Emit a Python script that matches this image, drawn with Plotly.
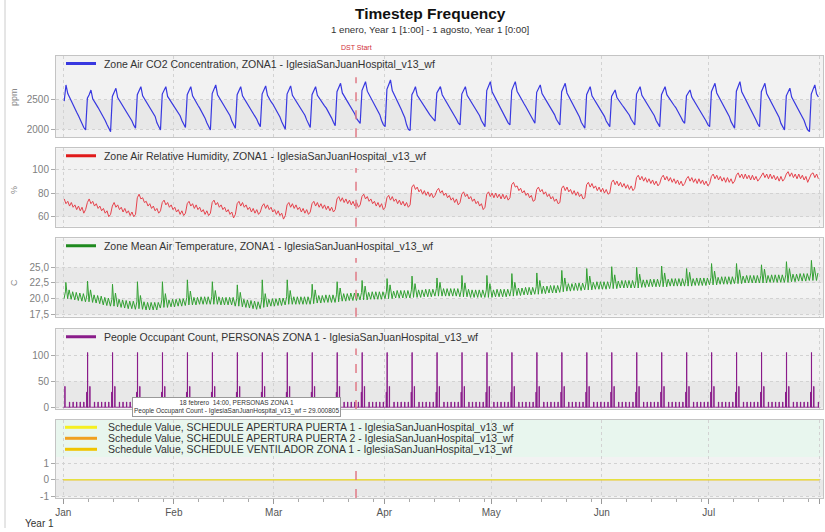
import plotly.graph_objects as go
from plotly.subplots import make_subplots
from datetime import datetime, timedelta

START = datetime(2001, 1, 1, 0, 0)
N_DAYS = 212
DST_START = datetime(2001, 3, 24, 2, 0)

# ---------------- data ----------------
# CO2 [ppm]: two readings per day (06:00, 18:00). Row 0 = Mon 1 Jan..Sat 6 Jan, then Sun..Sat rows
CO2_PPM = [
    [2480, 2756, 2610, 2540, 2470, 2410, 2350, 2290, 2230, 2160, 2090, 2030],
    [1988, 2530, 2590, 2670, 2520, 2460, 2420, 2370, 2320, 2270, 2210, 2150, 2080, 2010],
    [1960, 2560, 2630, 2700, 2540, 2490, 2440, 2400, 2350, 2300, 2250, 2200, 2140, 2070],
    [2017, 2590, 2650, 2727, 2570, 2520, 2460, 2420, 2370, 2330, 2270, 2220, 2110, 2040],
    [1988, 2600, 2660, 2727, 2560, 2510, 2470, 2430, 2380, 2330, 2280, 2230, 2150, 2080],
    [2030, 2590, 2650, 2727, 2570, 2510, 2460, 2410, 2360, 2310, 2250, 2190, 2110, 2040],
    [1988, 2610, 2680, 2756, 2590, 2540, 2490, 2440, 2390, 2340, 2290, 2230, 2140, 2070],
    [2017, 2590, 2650, 2727, 2570, 2520, 2480, 2430, 2390, 2340, 2290, 2240, 2170, 2100],
    [2045, 2600, 2670, 2740, 2580, 2520, 2470, 2430, 2380, 2330, 2270, 2210, 2130, 2060],
    [2000, 2600, 2660, 2740, 2580, 2530, 2480, 2440, 2390, 2340, 2290, 2240, 2160, 2090],
    [2030, 2590, 2650, 2727, 2580, 2530, 2490, 2450, 2400, 2360, 2310, 2260, 2190, 2120],
    [2060, 2640, 2710, 2784, 2620, 2570, 2520, 2470, 2420, 2370, 2320, 2260, 2180, 2130],
    [2100, 2660, 2730, 2812, 2650, 2590, 2530, 2480, 2420, 2370, 2310, 2250, 2150, 2080],
    [2045, 2680, 2760, 2841, 2660, 2600, 2530, 2470, 2400, 2340, 2270, 2200, 2080, 2000],
    [1980, 2590, 2650, 2727, 2580, 2530, 2480, 2430, 2380, 2340, 2290, 2250, 2210, 2170],
    [2140, 2620, 2670, 2727, 2590, 2540, 2490, 2440, 2390, 2340, 2290, 2240, 2170, 2110],
    [2073, 2600, 2660, 2727, 2580, 2530, 2480, 2440, 2390, 2340, 2280, 2230, 2150, 2090],
    [2045, 2660, 2730, 2812, 2640, 2580, 2520, 2470, 2410, 2360, 2300, 2250, 2170, 2110],
    [2073, 2660, 2740, 2812, 2650, 2590, 2540, 2480, 2430, 2380, 2320, 2270, 2200, 2140],
    [2102, 2630, 2690, 2756, 2610, 2560, 2500, 2460, 2410, 2360, 2300, 2250, 2170, 2110],
    [2073, 2640, 2710, 2784, 2620, 2560, 2500, 2450, 2390, 2340, 2270, 2210, 2120, 2060],
    [2017, 2590, 2650, 2727, 2570, 2520, 2470, 2420, 2370, 2320, 2270, 2220, 2140, 2080],
    [2045, 2560, 2610, 2670, 2540, 2490, 2450, 2410, 2370, 2330, 2280, 2240, 2170, 2110],
    [2073, 2600, 2660, 2727, 2580, 2530, 2480, 2430, 2380, 2330, 2280, 2230, 2150, 2090],
    [2045, 2590, 2650, 2727, 2590, 2540, 2500, 2450, 2410, 2370, 2320, 2270, 2200, 2140],
    [2102, 2570, 2620, 2670, 2550, 2500, 2460, 2410, 2360, 2310, 2260, 2210, 2140, 2080],
    [2045, 2640, 2710, 2784, 2620, 2560, 2500, 2450, 2390, 2340, 2280, 2220, 2130, 2060],
    [2017, 2650, 2730, 2812, 2640, 2580, 2520, 2470, 2410, 2360, 2300, 2240, 2160, 2090],
    [2045, 2640, 2710, 2784, 2610, 2550, 2490, 2440, 2380, 2320, 2260, 2200, 2100, 2030],
    [1988, 2570, 2630, 2700, 2550, 2490, 2430, 2380, 2320, 2270, 2210, 2150, 2060, 1990],
    [1960, 2600, 2680, 2756, 2600, 2550],
]

# Relative humidity [%]: two readings per day (06:00, 18:00), same week rows
RH_PCT = [
    [75, 71, 73, 69, 72, 68, 70, 66, 69, 65, 68, 63],
    [66, 72, 75, 71, 73, 69, 71, 67, 69, 65, 67, 63, 65, 60],
    [62, 69, 72, 68, 70, 66, 68, 64, 67, 63, 65, 61, 64, 60],
    [62, 76, 79, 75, 76, 72, 73, 69, 71, 67, 69, 65, 67, 63],
    [65, 72, 74, 70, 72, 68, 70, 66, 68, 64, 66, 62, 65, 61],
    [63, 71, 73, 69, 71, 67, 70, 66, 68, 64, 66, 62, 65, 61],
    [63, 72, 74, 70, 72, 68, 70, 66, 68, 64, 66, 62, 64, 59],
    [62, 71, 73, 69, 72, 68, 70, 66, 68, 64, 67, 63, 66, 62],
    [64, 69, 71, 67, 70, 66, 68, 64, 66, 62, 65, 61, 63, 58],
    [61, 70, 72, 68, 71, 67, 70, 66, 68, 64, 67, 63, 66, 62],
    [64, 71, 73, 69, 72, 68, 71, 67, 70, 66, 69, 65, 68, 64],
    [66, 75, 77, 73, 76, 72, 75, 71, 74, 70, 73, 69, 72, 68],
    [70, 77, 79, 75, 77, 73, 75, 71, 73, 69, 72, 68, 71, 66],
    [68, 76, 78, 74, 77, 73, 75, 71, 74, 70, 73, 69, 72, 68],
    [70, 85, 87, 83, 85, 81, 83, 79, 82, 78, 81, 77, 80, 76],
    [78, 82, 84, 80, 82, 78, 80, 76, 78, 74, 76, 72, 75, 70],
    [72, 79, 81, 77, 79, 75, 77, 73, 75, 71, 73, 69, 71, 66],
    [68, 79, 81, 77, 80, 76, 80, 76, 79, 75, 79, 75, 78, 74],
    [76, 87, 89, 85, 86, 82, 84, 80, 82, 78, 80, 76, 78, 73],
    [74, 83, 85, 81, 83, 79, 81, 77, 79, 75, 77, 73, 75, 71],
    [72, 84, 86, 82, 85, 81, 83, 79, 82, 78, 81, 77, 79, 75],
    [76, 87, 89, 85, 88, 84, 86, 82, 85, 81, 84, 80, 83, 79],
    [80, 89, 91, 87, 90, 86, 89, 85, 88, 84, 87, 83, 86, 82],
    [84, 93, 95, 91, 94, 90, 93, 89, 92, 88, 91, 87, 90, 86],
    [88, 93, 95, 91, 94, 90, 93, 89, 92, 88, 91, 87, 90, 86],
    [88, 92, 94, 90, 93, 89, 92, 88, 92, 88, 91, 87, 90, 86],
    [88, 94, 96, 92, 95, 91, 94, 90, 93, 89, 93, 89, 92, 88],
    [90, 95, 97, 93, 96, 92, 96, 92, 95, 91, 95, 91, 94, 90],
    [92, 95, 97, 93, 96, 92, 96, 92, 95, 91, 94, 90, 94, 90],
    [92, 96, 98, 94, 97, 93, 96, 92, 96, 92, 95, 91, 94, 89],
    [92, 96, 97, 93, 96, 92],
]

# Mean air temperature [C]: two readings per day (05:00 low, 15:00 high)
TEMP_C = [
    [20.0, 21.2, 20.0, 21.4, 19.9, 21.1, 19.8, 21.0, 19.7, 20.9, 19.6, 20.8],
    [19.5, 20.6, 19.5, 21.4, 19.4, 20.6, 19.3, 20.5, 19.2, 20.4, 19.0, 20.2, 18.9, 20.1],
    [18.8, 19.9, 18.8, 20.9, 18.7, 19.9, 18.6, 19.8, 18.5, 19.7, 18.4, 19.6, 18.4, 19.6],
    [18.3, 19.5, 18.4, 20.5, 18.3, 19.5, 18.2, 19.4, 18.2, 19.4, 18.2, 19.4, 18.2, 19.4],
    [18.5, 19.8, 18.6, 20.8, 18.6, 19.8, 18.7, 19.9, 18.7, 19.9, 18.8, 20.0, 18.8, 20.0],
    [18.9, 20.2, 19.0, 21.2, 19.0, 20.2, 19.0, 20.2, 19.1, 20.3, 19.1, 20.3, 19.1, 20.3],
    [19.1, 20.3, 19.1, 21.3, 19.1, 20.3, 19.0, 20.2, 19.0, 20.2, 19.0, 20.2, 19.0, 20.2],
    [18.8, 20.0, 18.8, 21.0, 18.7, 19.9, 18.6, 19.8, 18.5, 19.7, 18.4, 19.6, 18.3, 19.5],
    [18.4, 19.8, 18.6, 20.8, 18.7, 19.9, 18.8, 20.0, 18.8, 20.0, 18.9, 20.1, 18.9, 20.1],
    [19.0, 20.3, 19.1, 21.3, 19.1, 20.3, 19.1, 20.3, 19.1, 20.3, 19.1, 20.3, 19.1, 20.3],
    [19.1, 20.4, 19.2, 21.4, 19.3, 20.5, 19.3, 20.5, 19.4, 20.6, 19.4, 20.6, 19.4, 20.6],
    [19.4, 20.7, 19.5, 21.7, 19.6, 20.8, 19.6, 20.8, 19.7, 20.9, 19.7, 20.9, 19.7, 20.9],
    [19.8, 21.0, 19.8, 22.0, 19.8, 21.0, 19.9, 21.1, 19.9, 21.1, 19.9, 21.1, 19.9, 21.1],
    [20.0, 21.2, 20.0, 22.2, 20.0, 21.2, 20.1, 21.3, 20.1, 21.3, 20.1, 21.3, 20.1, 21.3],
    [20.1, 21.4, 20.2, 22.4, 20.2, 21.4, 20.2, 21.4, 20.3, 21.5, 20.3, 21.5, 20.3, 21.5],
    [20.4, 21.6, 20.4, 22.6, 20.4, 21.6, 20.4, 21.6, 20.4, 21.6, 20.4, 21.6, 20.4, 21.6],
    [20.3, 21.5, 20.3, 22.5, 20.3, 21.5, 20.2, 21.4, 20.2, 21.4, 20.2, 21.4, 20.2, 21.4],
    [20.2, 21.4, 20.2, 22.4, 20.2, 21.4, 20.3, 21.5, 20.3, 21.5, 20.3, 21.5, 20.3, 21.5],
    [20.4, 21.6, 20.4, 22.6, 20.5, 21.7, 20.5, 21.7, 20.6, 21.8, 20.6, 21.8, 20.6, 21.8],
    [20.7, 21.9, 20.7, 22.9, 20.8, 22.0, 20.8, 22.0, 20.9, 22.1, 20.9, 22.1, 20.9, 22.1],
    [21.0, 22.3, 21.1, 23.3, 21.2, 22.4, 21.2, 22.4, 21.3, 22.5, 21.3, 22.5, 21.3, 22.5],
    [21.4, 22.6, 21.4, 23.6, 21.4, 22.6, 21.5, 22.7, 21.5, 22.7, 21.5, 22.7, 21.5, 22.7],
    [21.6, 22.8, 21.6, 23.8, 21.6, 22.8, 21.7, 22.9, 21.7, 22.9, 21.7, 22.9, 21.7, 22.9],
    [21.7, 22.9, 21.7, 23.9, 21.8, 23.0, 21.8, 23.0, 21.9, 23.1, 21.9, 23.1, 21.9, 23.1],
    [21.9, 23.1, 21.9, 24.1, 21.9, 23.1, 22.0, 23.2, 22.0, 23.2, 22.0, 23.2, 22.0, 23.2],
    [22.0, 23.2, 22.0, 24.2, 22.0, 23.2, 22.1, 23.3, 22.1, 23.3, 22.1, 23.3, 22.1, 23.3],
    [22.2, 23.4, 22.2, 24.4, 22.2, 23.4, 22.3, 23.5, 22.3, 23.5, 22.3, 23.5, 22.3, 23.5],
    [22.4, 23.6, 22.4, 24.6, 22.4, 23.6, 22.5, 23.7, 22.5, 23.7, 22.5, 23.7, 22.5, 23.7],
    [22.5, 23.7, 22.5, 24.7, 22.5, 23.7, 22.6, 23.8, 22.6, 23.8, 22.6, 23.8, 22.6, 23.8],
    [22.6, 23.8, 22.6, 24.8, 22.7, 23.9, 22.7, 23.9, 22.8, 24.0, 22.8, 24.0, 22.8, 24.0],
    [22.9, 24.1, 22.9, 25.0, 22.9, 24.1],
]
# short temperature peaks: Mon 1 Jan 17:00, then every Sunday 19:00
TEMP_PEAK_C = [22.6, 22.8, 22.3, 22.7, 22.7, 23.0, 22.7, 22.2, 23.0, 23.0, 22.3,
               22.7, 22.9, 23.2, 23.6, 23.3, 23.7, 23.7, 24.0, 24.1, 24.5,
               24.8, 25.1, 25.0, 25.2, 24.8, 25.6, 25.6, 25.4, 25.9, 26.1]

# People occupant count, per week
PEOPLE_SUNDAY_PEAK = [105, 105, 105, 105, 105, 105, 105, 105, 105, 105,
                      105, 105, 105, 105, 105, 105, 105, 105, 105, 105,
                      105, 105, 105, 105, 105, 105, 105, 105, 105, 105]
PEOPLE_SUNDAY_AFTERNOON = [29, 29, 29, 29, 29, 29, 29, 29, 29, 29,
                           29, 29, 29, 29, 29, 29, 29, 29, 29, 29,
                           29, 29, 29, 29, 29, 29, 29, 29, 29, 29]
PEOPLE_MONDAY = [40, 40, 40, 40, 40, 40, 40, 40, 40, 40, 40,
                 40, 40, 40, 40, 40, 40, 40, 40, 40, 40,
                 40, 40, 40, 40, 40, 40, 40, 40, 40, 40]
PEOPLE_WEEKDAY = [10, 10, 10, 10, 10, 10, 10, 10, 10, 10, 10,
                  10, 10, 10, 10, 10, 10, 10, 10, 10, 10,
                  10, 10, 10, 10, 10, 10, 10, 10, 10, 10]

# Schedule values (flat at 0 over the period)
SCHED_PUERTA1 = [0, 0]
SCHED_PUERTA2 = [0, 0]
SCHED_VENT = [0, 0]

# Axis ticks
CO2_TICKS = [2000, 2500]
RH_TICKS = [60, 80, 100]
T_TICKS = [17.5, 20.0, 22.5, 25.0]
T_TICKTEXT = ["17,5", "20,0", "22,5", "25,0"]
PEOPLE_TICKS = [0, 50, 100]
SCHED_TICKS = [-1, 0, 1]

NAMES = [
    "Zone Air CO2 Concentration, ZONA1 - IglesiaSanJuanHospital_v13_wf",
    "Zone Air Relative Humidity, ZONA1 - IglesiaSanJuanHospital_v13_wf",
    "Zone Mean Air Temperature, ZONA1 - IglesiaSanJuanHospital_v13_wf",
    "People Occupant Count, PERSONAS ZONA 1 - IglesiaSanJuanHospital_v13_wf",
    "Schedule Value, SCHEDULE APERTURA PUERTA 1 - IglesiaSanJuanHospital_v13_wf",
    "Schedule Value, SCHEDULE APERTURA PUERTA 2 - IglesiaSanJuanHospital_v13_wf",
    "Schedule Value, SCHEDULE VENTILADOR ZONA 1 - IglesiaSanJuanHospital_v13_wf",
]

# ---------------- build series ----------------
def flat(rows):
    out = []
    for r in rows:
        out.extend(r)
    return out

def twice_daily(values, h1, h2):
    return [START + timedelta(days=i // 2, hours=(h1 if i % 2 == 0 else h2)) for i in range(len(values))]

co2 = flat(CO2_PPM)
rh = flat(RH_PCT)
tc = flat(TEMP_C)
t_co2 = twice_daily(co2, 6, 18)
t_rh = twice_daily(rh, 6, 18)

temp_pts = list(zip(twice_daily(tc, 5, 15), tc))
for k, v in enumerate(TEMP_PEAK_C):
    if k == 0:
        tp = START + timedelta(hours=17)
    else:
        tp = START + timedelta(days=6 + 7 * (k - 1), hours=19)
    temp_pts.append((tp, v))
temp_pts.sort(key=lambda p: p[0])
t_tc = [p[0] for p in temp_pts]
v_tc = [p[1] for p in temp_pts]

n_hours = N_DAYS * 24
people = [0] * n_hours
for k, v in enumerate(PEOPLE_SUNDAY_PEAK):
    d = 6 + 7 * k
    people[d * 24 + 19] = v
for k, v in enumerate(PEOPLE_SUNDAY_AFTERNOON):
    d = 6 + 7 * k
    people[d * 24 + 13] = v
    people[d * 24 + 14] = v
for k, v in enumerate(PEOPLE_MONDAY):
    d = 7 * k
    people[d * 24 + 10] = v
    people[d * 24 + 11] = v
for k, v in enumerate(PEOPLE_WEEKDAY):
    for dd in range(1, 6):
        d = 7 * k + dd
        if d < N_DAYS:
            people[d * 24 + 17] = v
            people[d * 24 + 18] = v
t_people = [START + timedelta(hours=h) for h in range(n_hours)]
t_sched = [START + timedelta(hours=1), START + timedelta(days=N_DAYS)]

# ---------------- figure ----------------
fig = make_subplots(rows=5, cols=1, shared_xaxes=True)

COL_CO2 = "#3838e0"
COL_RH = "#e5424c"
COL_T = "#33a033"
COL_P = "#8a1c8a"

fig.add_trace(go.Scatter(x=t_co2, y=co2, mode="lines", line=dict(color=COL_CO2, width=1.2),
                         showlegend=False), row=1, col=1)
fig.add_trace(go.Scatter(x=t_rh, y=rh, mode="lines", line=dict(color=COL_RH, width=1),
                         showlegend=False), row=2, col=1)
fig.add_trace(go.Scatter(x=t_tc, y=v_tc, mode="lines", line=dict(color=COL_T, width=1),
                         showlegend=False), row=3, col=1)
fig.add_trace(go.Scatter(x=t_people, y=people, mode="lines", line=dict(color=COL_P, width=1, shape="hv"),
                         showlegend=False), row=4, col=1)
fig.add_trace(go.Scatter(x=t_sched, y=SCHED_PUERTA2, mode="lines", line=dict(color="#f0a020", width=1),
                         showlegend=False), row=5, col=1)
fig.add_trace(go.Scatter(x=t_sched, y=SCHED_VENT, mode="lines", line=dict(color="#f0c400", width=1),
                         showlegend=False), row=5, col=1)
fig.add_trace(go.Scatter(x=t_sched, y=SCHED_PUERTA1, mode="lines", line=dict(color="#e6e040", width=1.2),
                         showlegend=False), row=5, col=1)

# legend entries (wider sample lines)
leg_cols = [COL_CO2, "#e01a1a", "#1f8a1f", COL_P]
for i in range(4):
    fig.add_trace(go.Scatter(x=[None], y=[None], mode="lines", line=dict(color=leg_cols[i], width=3),
                             name="\u00a0" + NAMES[i], showlegend=True,
                             legend="legend" if i == 0 else "legend%d" % (i + 1)),
                  row=i + 1, col=1)

# geometry
L, R, T, B = 56, 2, 56, 34
W, H = 825, 532
PH = H - T - B
PW = W - L - R
def py(px):
    return (H - B - px) / PH
def pxx(px):
    return (px - L) / PW

domains = [(137.3, 56), (226.7, 148.3), (316.7, 238.3), (409, 329.3), (498, 420)]
ranges = [[1863, 3250], [51.6, 117.7], [17.12, 29.63], [-3.3, 149.5], [-1.12, 3.65]]
ticks = [CO2_TICKS, RH_TICKS, T_TICKS, PEOPLE_TICKS, SCHED_TICKS]
ticktexts = [[str(v) for v in CO2_TICKS], [str(v) for v in RH_TICKS], T_TICKTEXT,
             [str(v) for v in PEOPLE_TICKS], [str(v) for v in SCHED_TICKS]]

FONT = "Liberation Sans, Arial, sans-serif"
xrange = [datetime(2000, 12, 29, 22, 48), datetime(2001, 8, 2, 1, 0)]

for i in range(5):
    ya = "yaxis" if i == 0 else "yaxis%d" % (i + 1)
    xa = "xaxis" if i == 0 else "xaxis%d" % (i + 1)
    fig.layout[ya].update(domain=[py(domains[i][0]), py(domains[i][1])], range=ranges[i],
                          tickmode="array", tickvals=ticks[i], ticktext=ticktexts[i],
                          showgrid=True, gridcolor="#d2d2d2", griddash="dot", gridwidth=1,
                          zeroline=False, showline=True, mirror=True, linecolor="#c4c4c4",
                          ticks="outside", ticklen=4, tickcolor="#aaaaaa", automargin=False,
                          tickfont=dict(size=10, color="#808080", family=FONT), fixedrange=True)
    fig.layout[xa].update(range=xrange, type="date", showgrid=True, gridcolor="#d2d2d2",
                          griddash="dot", dtick="M1", tick0="2001-01-01", automargin=False,
                          showline=True, mirror=True, linecolor="#c4c4c4", zeroline=False)
    if i < 4:
        fig.layout[xa].update(showticklabels=False, ticks="")

minor_vals = []
for m in range(1, 9):
    for dd in (8, 15, 22, 29):
        try:
            minor_vals.append(datetime(2001, m, dd))
        except ValueError:
            pass
fig.layout.xaxis5.update(showticklabels=True, tickformat="%b", ticks="outside", ticklen=5,
                         tickcolor="#999999", tickfont=dict(size=10, color="#555555", family=FONT),
                         minor=dict(tickmode="array", tickvals=minor_vals, ticks="outside",
                                    ticklen=3, tickcolor="#aaaaaa", showgrid=False))

# legends
for i in range(4):
    key = "legend" if i == 0 else "legend%d" % (i + 1)
    fig.layout[key] = dict(x=pxx(61), y=py(domains[i][1] - 7), xanchor="left", yanchor="top",
                           bgcolor="rgba(0,0,0,0)", borderwidth=0,
                           font=dict(size=10.5, color="#333333", family=FONT))

shapes = []
# alternating background bands between tick values
band_dark = "#e8e8e8"
for i, tv in enumerate(ticks):
    yref = "y" if i == 0 else "y%d" % (i + 1)
    xref = "x domain" if i == 0 else "x%d domain" % (i + 1)
    for j in range(0, len(tv) - 1, 2):
        shapes.append(dict(type="rect", xref=xref, yref=yref, x0=0, x1=1, y0=tv[j], y1=tv[j + 1],
                           fillcolor=band_dark, line=dict(width=0), layer="below"))
# light mint legend area in the last panel
shapes.append(dict(type="rect", xref="x5 domain", yref="paper", x0=0, x1=1, y0=py(457), y1=py(420),
                   fillcolor="#e8f6ee", line=dict(width=0), layer="below"))
# DST dashed lines
dst_tops = [0.74, 0.75, 0.75, 0.76, 0.46]
for i in range(5):
    yref = "y domain" if i == 0 else "y%d domain" % (i + 1)
    xref = "x" if i == 0 else "x%d" % (i + 1)
    shapes.append(dict(type="line", xref=xref, yref=yref, x0=DST_START, x1=DST_START,
                       y0=0, y1=dst_tops[i], line=dict(color="#e07a86", width=1.5, dash="dash")))
# panel-5 legend samples
sched_cols = ["#f5f020", "#f0a020", "#f0c400"]
sched_y = [427.3, 438.3, 449.3]
for c, yy in zip(sched_cols, sched_y):
    shapes.append(dict(type="line", xref="paper", yref="paper", x0=pxx(65), x1=pxx(97),
                       y0=py(yy), y1=py(yy), line=dict(color=c, width=3)))
# window border at left
shapes.append(dict(type="line", xref="paper", yref="paper", x0=pxx(5), x1=pxx(5),
                   y0=py(528), y1=py(0), line=dict(color="#cccccc", width=1)))

def ann(text, x, y, xref="paper", size=10, color="#333333", **kw):
    d = dict(text=text, x=x, y=y, xref=xref, yref="paper", showarrow=False,
             xanchor=kw.pop("xanchor", "center"), yanchor=kw.pop("yanchor", "middle"),
             font=dict(size=size, color=color, family=FONT))
    d.update(kw)
    return d

annotations = [
    ann("<b>Timestep Frequency</b>", pxx(430), py(14), size=15.5, color="#111111"),
    ann("1 enero, Year 1 [1:00] - 1 agosto, Year 1 [0:00]", pxx(430), py(30), size=9.7),
    ann("DST Start", DST_START, py(47), xref="x", size=7, color="#d0303a"),
    ann("ppm", pxx(14), py(97), size=9, color="#888888", textangle=-90),
    ann("%", pxx(14), py(190), size=9, color="#888888", textangle=-90),
    ann("C", pxx(14), py(283), size=9, color="#888888", textangle=-90),
    ann("Year 1", pxx(23), py(523), xanchor="left", size=10),
    ann("18 febrero  14:00, PERSONAS ZONA 1<br>People Occupant Count - IglesiaSanJuanHospital_v13_wf = 29.000805",
        datetime(2001, 2, 18, 14), py(407), xref="x", size=6.5,
        bgcolor="#ffffff", bordercolor="#999999", borderwidth=1, borderpad=1),
]
for name, yy in zip(NAMES[4:], sched_y):
    annotations.append(ann(name, pxx(106), py(yy), xanchor="left", size=10.5))

fig.update_layout(width=W, height=H, margin=dict(l=L, r=R, t=T, b=B, autoexpand=False),
                  paper_bgcolor="#ffffff", plot_bgcolor="#f2f2f2",
                  shapes=shapes, annotations=annotations, hovermode=False,
                  font=dict(family=FONT))

fig.write_html("out.html", config={"displayModeBar": False},
               post_script="document.body.style.margin='0';document.body.style.overflow='hidden';")
